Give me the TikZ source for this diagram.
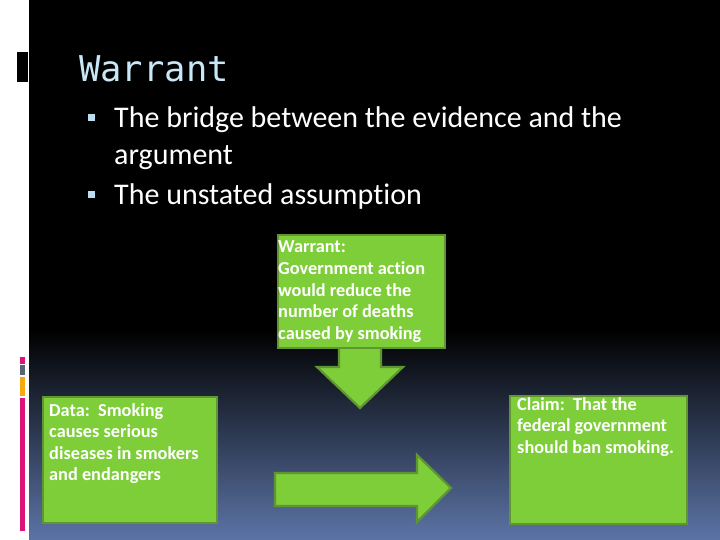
\documentclass[tikz,border=0pt]{standalone}
\usepackage{fontspec}
\setmainfont{Carlito}[Ligatures=NoCommon]
\newfontfamily\titlefont{DejaVu Sans Mono}
\definecolor{boxgreen}{RGB}{126,206,58}
\definecolor{boxedge}{RGB}{95,150,50}
\definecolor{titleblue}{RGB}{200,232,248}
\definecolor{bulletblue}{RGB}{190,220,240}
\definecolor{bottomblue}{RGB}{92,116,166}
\definecolor{barmag}{RGB}{220,20,120}
\definecolor{bargray}{RGB}{90,100,115}
\definecolor{barorange}{RGB}{245,170,20}
\tikzset{
  gbox/.style={draw=boxedge, line width=2.2bp, fill=boxgreen, inner sep=0pt, anchor=north west},
  gtext/.style={text=white, font=\fontsize{18.3bp}{21.6bp}\selectfont\bfseries, align=left, inner sep=0pt, anchor=base west},
  btext/.style={text=white, font=\fontsize{30bp}{37bp}\selectfont, align=left, inner sep=0pt, anchor=base west},
  blockarrow/.style={draw=boxedge, line width=2.2bp, fill=boxgreen, line join=miter},
  bullet/.style={fill=bulletblue, draw=none}
}
\begin{document}
\begin{tikzpicture}[x=1bp,y=-1bp]
\useasboundingbox (0,0) rectangle (720,540);
% background
\fill[white] (0,0) rectangle (720,540);
\fill[black] (29,0) rectangle (720,540);
\shade[top color=black, bottom color=bottomblue] (29,330) rectangle (720,540);
% left decorations
\fill[black] (17,52) rectangle (28,82);
\fill[barmag] (20,357) rectangle (25,364);
\fill[bargray] (20,365) rectangle (25,375);
\fill[barorange] (20,377) rectangle (25,396);
\fill[barmag] (20,398) rectangle (25,531);
% title
\node[text=titleblue, font=\titlefont\fontsize{35.5bp}{40bp}\selectfont, inner sep=0pt, anchor=base west] (title) at (79,82) {Warrant};
% bullets (base anchor = last line)
\fill[bullet] (88,114) rectangle (95,121);
\node[btext] (b1) at (114,165) {The bridge between the evidence and the\\argument};
\fill[bullet] (88,191) rectangle (95,198);
\node[btext] (b2) at (114,205) {The unstated assumption};
% warrant box and down arrow
\draw[blockarrow] (339,346) -- (339,367) -- (317,367) -- (360,408) -- (403,367) -- (381,367) -- (381,346);
\node[gbox, minimum width=167bp, minimum height=113bp] (warrant) at (277,234) {};
\node[gtext] (wt) at (278,339.4) {Warrant:\\Government action\\would reduce the\\number of deaths\\caused by smoking};
% data box
\node[gbox, minimum width=174bp, minimum height=126bp] (data) at (42,396) {};
\node[gtext] (dt) at (49,480.8) {Data:\ \ Smoking\\causes serious\\diseases in smokers\\and endangers};
% right arrow
\draw[blockarrow] (275,473) -- (417,473) -- (417,455) -- (451,488) -- (417,522) -- (417,506) -- (275,506) -- cycle;
% claim box
\node[gbox, minimum width=177bp, minimum height=128bp] (claim) at (509,395) {};
\node[gtext] (ct) at (517,453.2) {Claim:\ \ That the\\federal government\\should ban smoking.};
\end{tikzpicture}
\end{document}
